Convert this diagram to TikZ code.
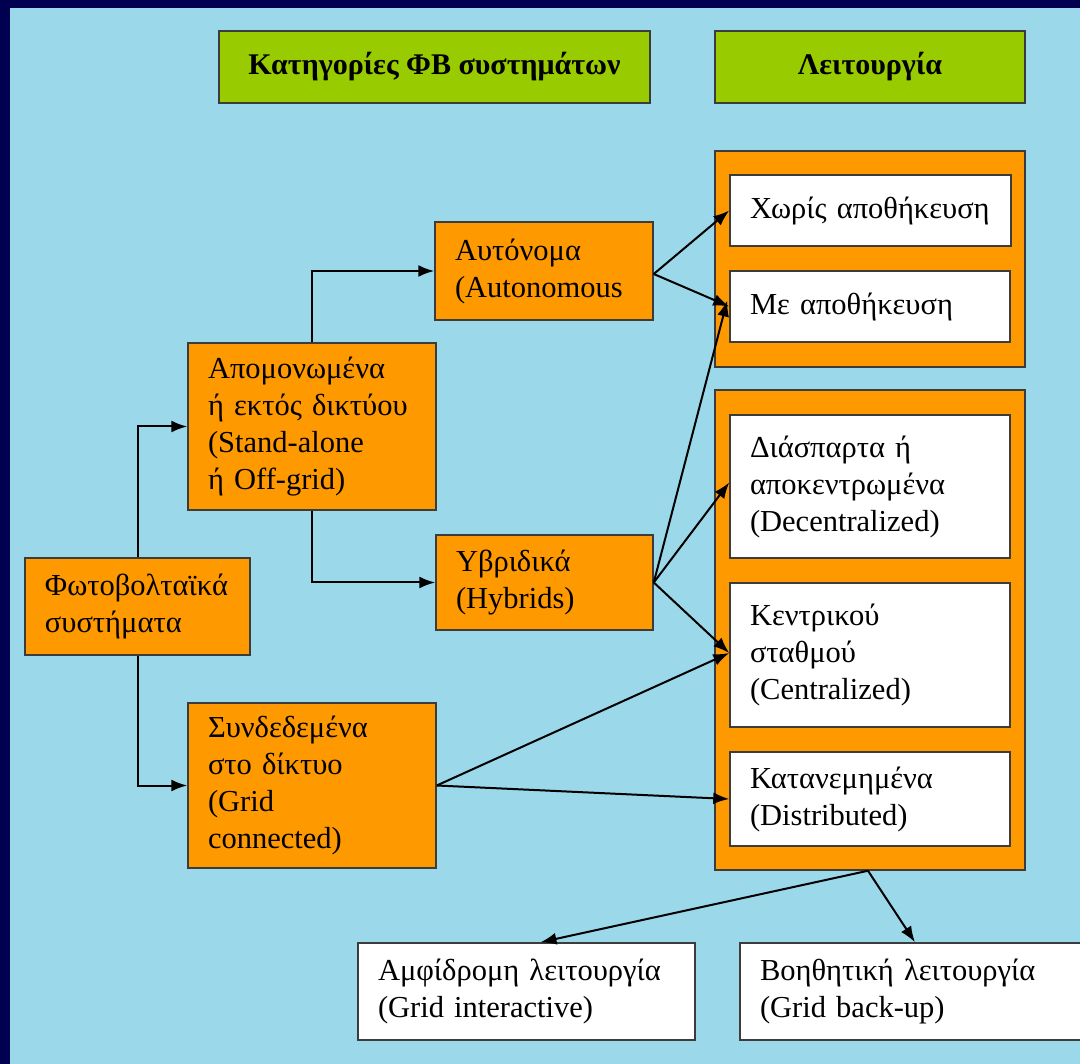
\documentclass[tikz,border=0pt]{standalone}
\usepackage{fontspec}
\setmainfont{Liberation Serif}
\usetikzlibrary{arrows.meta,calc}
\definecolor{bgblue}{RGB}{155,217,234}
\definecolor{navy}{RGB}{0,0,80}
\definecolor{orng}{RGB}{255,153,0}
\definecolor{grn}{RGB}{153,204,0}
\definecolor{edge}{RGB}{60,60,60}
\tikzset{
  base/.style={draw=edge, line width=1.5pt, inner sep=0pt, align=left,
    font=\fontsize{30.5}{37}\selectfont},
  obox/.style={base, fill=orng},
  wbox/.style={base, fill=white},
  gbox/.style={base, fill=grn, align=center, font=\fontsize{30}{34}\selectfont\bfseries},
  frame/.style={draw=edge, line width=1.5pt, fill=orng},
  conn/.style={line width=2pt, -{Latex[length=16pt,width=12pt]}},
}
\begin{document}
\begin{tikzpicture}[x=1pt,y=-1pt]
\useasboundingbox (0,0) rectangle (1080,1064);
\clip (0,0) rectangle (1080,1064);
\fill[bgblue] (0,0) rectangle (1080,1064);
\fill[navy] (0,0) rectangle (1080,8);
\fill[navy] (0,0) rectangle (10,1064);
% headers
\node[gbox, minimum width=431, minimum height=72] (h1) at (434.5,67) {Κατηγορίες ΦΒ συστημάτων};
\node[gbox, minimum width=310, minimum height=72] (h2) at (870,67) {Λειτουργία};
% right frames
\node[frame, minimum width=310, minimum height=216, inner sep=0pt] (f1) at (870,259) {};
\node[frame, minimum width=310, minimum height=480, inner sep=0pt] (f2) at (870,630) {};
\node[wbox, minimum width=281, minimum height=71, text width=241] (nos) at (870.5,210.5) {Χωρίς αποθήκευση};
\node[wbox, minimum width=280, minimum height=71, text width=240] (ws) at (870,306.5) {Με αποθήκευση};
\node[wbox, minimum width=280, minimum height=143, text width=240] (dec) at (870,486.5) {Διάσπαρτα ή\\αποκεντρωμένα\\(Decentralized)};
\node[wbox, minimum width=280, minimum height=144, text width=240] (cen) at (870,655) {Κεντρικού\\σταθμού\\(Centralized)};
\node[wbox, minimum width=280, minimum height=94, text width=240] (dis) at (870,799) {Κατανεμημένα\\(Distributed)};
% left boxes
\node[obox, minimum width=218, minimum height=98, text width=178] (aut) at (544,271) {Αυτόνομα\\(Autonomous};
\node[obox, minimum width=248, minimum height=167, text width=208] (sa) at (312,426.5) {Απομονωμένα\\ή εκτός δικτύου\\(Stand-alone\\ή Off-grid)};
\node[obox, minimum width=217, minimum height=95, text width=177] (hyb) at (544.5,582.5) {Υβριδικά\\(Hybrids)};
\node[obox, minimum width=225, minimum height=97, text width=185] (pv) at (137.5,606.5) {Φωτοβολταϊκά\\συστήματα};
\node[obox, minimum width=248, minimum height=165, text width=208] (gc) at (312,785.5) {Συνδεδεμένα\\στο δίκτυο\\(Grid\\connected)};
% bottom boxes
\node[wbox, minimum width=337, minimum height=97, text width=297] (gi) at (526.5,991.5) {Αμφίδρομη λειτουργία\\(Grid interactive)};
\node[wbox, minimum width=350, minimum height=97, text width=310] (gb) at (915,991.5) {Βοηθητική λειτουργία\\(Grid back-up)};
% connectors
\draw[conn] (pv.north) |- (sa.west);
\draw[conn] (pv.south) |- (gc.west);
\draw[conn] (sa.north) |- (aut.west);
\draw[conn] (sa.south) |- (hyb.west);
\draw[conn] ([yshift=-3]aut.east) -- (nos.west);
\draw[conn] ([yshift=-3]aut.east) -- (ws.west);
\draw[conn] (hyb.east) -- ([xshift=-2,yshift=6]ws.west);
\draw[conn] (hyb.east) -- ([yshift=4]dec.west);
\draw[conn] (hyb.east) -- ([yshift=2]cen.west);
\draw[conn] (gc.east) -- ([yshift=2]cen.west);
\draw[conn] (gc.east) -- (dis.west);
\draw[conn] ([xshift=-2]f2.south) -- ([xshift=14]gi.north);
\draw[conn] ([xshift=-2]f2.south) -- (gb.north);
\end{tikzpicture}
\end{document}
